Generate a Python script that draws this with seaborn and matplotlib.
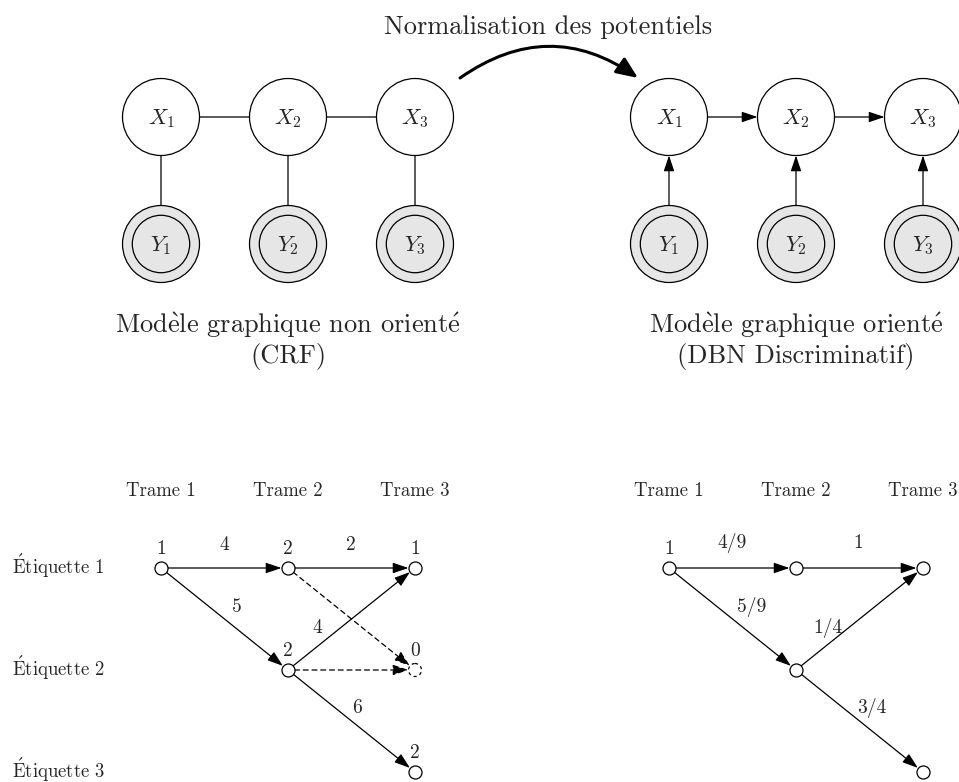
import matplotlib
matplotlib.use("Agg")
import matplotlib.pyplot as plt
from matplotlib.patches import Circle, FancyArrowPatch
import pandas as pd
import seaborn as sns

# -----------------------------
# Data
# -----------------------------
# accented letters go through mathtext so they stay in Computer Modern
E_GRAVE = r"$\grave{\mathrm{e}}$"
E_ACUTE = r"$\acute{\mathrm{e}}$"
CAP_E_ACUTE = r"$\acute{\mathrm{E}}$"

title_text = "Normalisation des potentiels"
hidden_names = ["$X_1$", "$X_2$", "$X_3$"]
observed_names = ["$Y_1$", "$Y_2$", "$Y_3$"]
crf_caption = [f"Mod{E_GRAVE}le graphique non orient{E_ACUTE}", "(CRF)"]
dbn_caption = [f"Mod{E_GRAVE}le graphique orient{E_ACUTE}", "(DBN Discriminatif)"]

frame_labels = ["Trame 1", "Trame 2", "Trame 3"]
state_labels = [f"{CAP_E_ACUTE}tiquette 1", f"{CAP_E_ACUTE}tiquette 2", f"{CAP_E_ACUTE}tiquette 3"]

# lattice nodes: frame index, state index, score shown above the node
crf_node_frame = [0, 1, 2, 1, 2, 2]
crf_node_state = [0, 0, 0, 1, 1, 2]
crf_node_score = ["1", "2", "1", "2", "0", "2"]
crf_node_pruned = [False, False, False, False, True, False]

# lattice edges: (frame, state) -> (frame, state), weight, pruned
crf_edge_src = [(0, 0), (1, 0), (0, 0), (1, 1), (1, 1), (1, 0), (1, 1)]
crf_edge_dst = [(1, 0), (2, 0), (1, 1), (2, 0), (2, 2), (2, 1), (2, 1)]
crf_edge_weight = ["4", "2", "5", "4", "6", "", ""]
crf_edge_pruned = [False, False, False, False, False, True, True]

dbn_node_frame = [0, 1, 2, 1, 2]
dbn_node_state = [0, 0, 0, 1, 2]
dbn_node_score = ["1", "", "", "", ""]

dbn_edge_src = [(0, 0), (1, 0), (0, 0), (1, 1), (1, 1)]
dbn_edge_dst = [(1, 0), (2, 0), (1, 1), (2, 0), (2, 2)]
dbn_edge_weight = ["4/9", "1", "5/9", "1/4", "3/4"]

# -----------------------------
# Layout (pixels, y downwards)
# -----------------------------
W, H = 959, 782
LEFT_X0, RIGHT_X0, COL_STEP = 161, 669, 127
X_ROW, Y_ROW = 117, 244
R_BIG, R_INNER = 38.5, 28.7
LAT_Y0, ROW_STEP = 568, 102
R_SMALL = 6.5
PT = 0.72  # points per pixel at 100 dpi
GRAY = "#e6e6e6"
LW = 0.9

# label anchor along each edge (t) and shift in pixels
crf_label_t = [0.5, 0.5, 0.5, 0.25, 0.5]
crf_label_shift = [(0, -23), (-1, -23), (12, -12), (-2, -16), (6, -13)]
dbn_label_t = [0.5, 0.5, 0.5, 0.25, 0.5]
dbn_label_shift = [(0, -25), (-1, -25), (19, -12), (0, -16), (12, -13)]

sns.set_theme(style="white")
plt.rcParams["font.family"] = ["cmr10", "DejaVu Serif"]
plt.rcParams["mathtext.fontset"] = "cm"
plt.rcParams["axes.formatter.use_mathtext"] = True

fig = plt.figure(figsize=(W / 100, H / 100), dpi=100)
ax = fig.add_axes([0, 0, 1, 1])


def arrow(p, q, shrink_a, shrink_b, head=True, dashed=False, lw=LW, style=None, **kw):
    if style is None:
        style = "-|>,head_length=0.95,head_width=0.32" if head else "-"
    patch = FancyArrowPatch(p, q, arrowstyle=style, mutation_scale=10,
                            shrinkA=shrink_a * PT, shrinkB=shrink_b * PT,
                            color="black", lw=lw,
                            linestyle=(0, (4, 3)) if dashed else "-", zorder=2, **kw)
    ax.add_patch(patch)


def graphical_model(x0, directed):
    for i in range(3):
        cx = x0 + i * COL_STEP
        ax.add_patch(Circle((cx, X_ROW), R_BIG, fc="white", ec="black", lw=LW, zorder=3))
        ax.text(cx, X_ROW + 2, hidden_names[i], ha="center", va="center", fontsize=16, zorder=4)
        ax.add_patch(Circle((cx, Y_ROW), R_BIG, fc=GRAY, ec="black", lw=LW, zorder=3))
        ax.add_patch(Circle((cx, Y_ROW), R_INNER, fc=GRAY, ec="black", lw=LW, zorder=3))
        ax.text(cx, Y_ROW + 2, observed_names[i], ha="center", va="center", fontsize=16, zorder=4)
        arrow((cx, Y_ROW), (cx, X_ROW), R_BIG, R_BIG, head=directed)
        if i < 2:
            arrow((cx, X_ROW), (cx + COL_STEP, X_ROW), R_BIG, R_BIG, head=directed)


def lattice(x0, frames, states, scores, src, dst, weights, label_t, label_shift,
            pruned_nodes=None, pruned_edges=None):
    pos = lambda f, s: (x0 + f * COL_STEP, LAT_Y0 + s * ROW_STEP)
    if pruned_nodes is None:
        pruned_nodes = [False] * len(frames)
    if pruned_edges is None:
        pruned_edges = [False] * len(src)

    nodes = pd.DataFrame({
        "x": [pos(f, s)[0] for f, s in zip(frames, states)],
        "y": [pos(f, s)[1] for f, s in zip(frames, states)],
        "score": scores,
        "pruned": pruned_nodes,
    })
    kept = nodes[~nodes["pruned"]]
    sns.scatterplot(data=kept, x="x", y="y", s=88, color="white", edgecolor="black",
                    linewidth=LW, zorder=3, ax=ax, legend=False)
    for _, row in nodes[nodes["pruned"]].iterrows():
        ax.add_patch(Circle((row["x"], row["y"]), R_SMALL, fc="white", ec="black",
                            lw=LW, linestyle=(0, (2.5, 2.5)), zorder=3))
    for _, row in nodes.iterrows():
        if row["score"]:
            ax.text(row["x"], row["y"] - 19, row["score"], ha="center", va="center", fontsize=14)

    k = 0
    for a, b, w, cut in zip(src, dst, weights, pruned_edges):
        p, q = pos(*a), pos(*b)
        arrow(p, q, R_SMALL, R_SMALL, dashed=cut)
        if w:
            t = label_t[k]
            dx, dy = label_shift[k]
            lx = p[0] + t * (q[0] - p[0]) + dx
            ly = p[1] + t * (q[1] - p[1]) + dy
            ax.text(lx, ly, w, ha="center", va="center", fontsize=14)
            k += 1

    for i, name in enumerate(frame_labels):
        ax.text(x0 + i * COL_STEP, 491, name, ha="center", va="center", fontsize=13.5)


# top: the two graphical models
graphical_model(LEFT_X0, directed=False)
graphical_model(RIGHT_X0, directed=True)

ax.text(LEFT_X0 + COL_STEP, 325, crf_caption[0], ha="center", va="center", fontsize=19)
ax.text(LEFT_X0 + COL_STEP, 357, crf_caption[1], ha="center", va="center", fontsize=19)
ax.text(RIGHT_X0 + COL_STEP, 325, dbn_caption[0], ha="center", va="center", fontsize=19)
ax.text(RIGHT_X0 + COL_STEP, 357, dbn_caption[1], ha="center", va="center", fontsize=19)

ax.text(548, 27, title_text, ha="center", va="center", fontsize=19)
arrow((460, 78), (638, 78), 0, 0, lw=2.2,
      style="-|>,head_length=1.3,head_width=0.55",
      connectionstyle="arc3,rad=-0.35")

# bottom: the two lattices
lattice(LEFT_X0, crf_node_frame, crf_node_state, crf_node_score,
        crf_edge_src, crf_edge_dst, crf_edge_weight, crf_label_t, crf_label_shift,
        crf_node_pruned, crf_edge_pruned)
lattice(RIGHT_X0, dbn_node_frame, dbn_node_state, dbn_node_score,
        dbn_edge_src, dbn_edge_dst, dbn_edge_weight, dbn_label_t, dbn_label_shift)

for j, name in enumerate(state_labels):
    ax.text(12, LAT_Y0 + j * ROW_STEP - 2, name, ha="left", va="center", fontsize=13.5)

ax.set_xlim(0, W)
ax.set_ylim(H, 0)
ax.set_aspect("equal")
ax.axis("off")

fig.savefig("out.png", dpi=100, facecolor="white")
